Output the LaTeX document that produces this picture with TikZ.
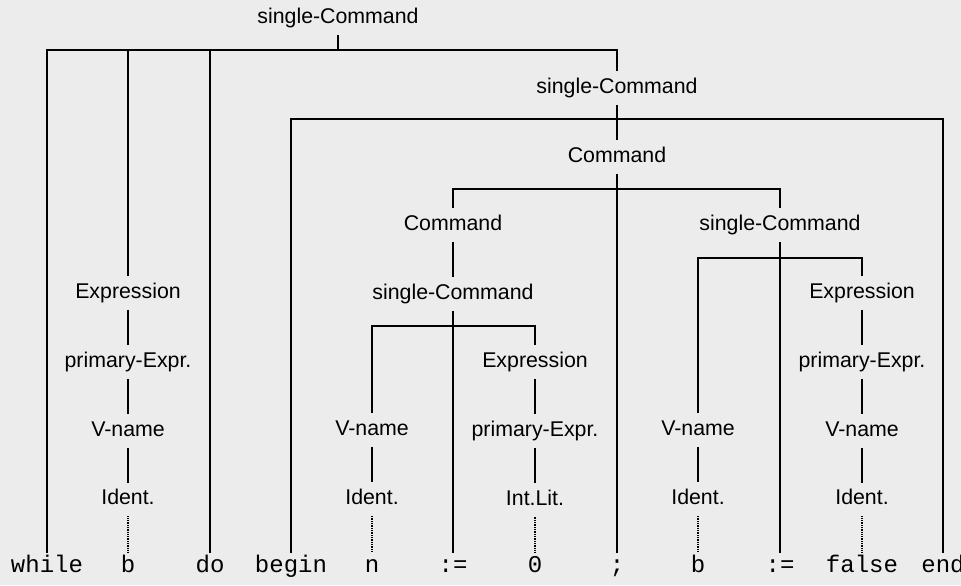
\documentclass[tikz,border=0pt]{standalone}
\usepackage{fontspec}
\setmainfont{Liberation Sans}
\setmonofont{Liberation Mono}
\usetikzlibrary{positioning}
\definecolor{paper}{gray}{0.925}
\tikzset{
    cat/.style={
           font=\fontsize{18.2}{20}\selectfont,
           text height=0.46cm,
           text depth=0.135cm,
           inner xsep=2pt,
           inner ysep=0.21cm,
           outer sep=0pt},
    word/.style={
           font=\ttfamily\fontsize{20.5}{22}\selectfont,
           text height=0.48cm,
           text depth=0.15cm,
           inner xsep=0pt,
           inner ysep=0.12cm,
           outer sep=0pt},
    branch/.style={
           line width=1.5pt},
    leaf/.style={
           line width=0.9pt,
           dash pattern=on 0.7pt off 0.8pt}
}

\begin{document}
\begin{tikzpicture}[x=0.03cm, y=-0.03cm, node distance=1.05cm]
        \fill[paper] (0,0) rectangle (961,585);
        \useasboundingbox (0,0) rectangle (961,585);

        % the sentence
        \node[word] (tWhile) at (47,567) {while};
        \node[word] (tB) at (128,567) {b};
        \node[word] (tDo) at (210,567) {do};
        \node[word] (tBegin) at (291,567) {begin};
        \node[word] (tN) at (372,567) {n};
        \node[word] (tBecomesA) at (453,567) {:=};
        \node[word] (tZero) at (535,567) {0};
        \node[word] (tSemi) at (617,567) {;};
        \node[word] (tBb) at (698,567) {b};
        \node[word] (tBecomesB) at (780,567) {:=};
        \node[word] (tFalse) at (862,567) {false};
        \node[word] (tEnd) at (943,567) {end};

        % phrase nodes
        \node[cat] (sc0) at (338,18) {single-Command};
        \node[cat] (sc1) at (617,88) {single-Command};
        \node[cat, below=of sc1] (cmd0) {Command};
        \node[cat] (cmd1) at (453,225) {Command};
        \node[cat, below=of cmd1] (sc3) {single-Command};
        \node[cat] (sc2) at (780,225) {single-Command};
        \node[cat] (exp0) at (128,293) {Expression};
        \node[cat, below=of exp0] (pe0) {primary-Expr.};
        \node[cat, below=of pe0] (vn0) {V-name};
        \node[cat, below=of vn0] (id0) {Ident.};
        \node[cat] (vn1) at (372,430) {V-name};
        \node[cat, below=of vn1] (id1) {Ident.};
        \node[cat] (exp1) at (535,362) {Expression};
        \node[cat, below=of exp1] (pe1) {primary-Expr.};
        \node[cat, below=of pe1] (il1) {Int.Lit.};
        \node[cat] (vn2) at (698,430) {V-name};
        \node[cat, below=of vn2] (id2) {Ident.};
        \node[cat] (exp2) at (862,293) {Expression};
        \node[cat, below=of exp2] (pe2) {primary-Expr.};
        \node[cat, below=of pe2] (vn3) {V-name};
        \node[cat, below=of vn3] (id3) {Ident.};

        \coordinate (bar0) at (0,50);
        \coordinate (bar1) at (0,119);
        \coordinate (bar2) at (0,189);
        \coordinate (bar3) at (0,258);
        \coordinate (bar4) at (0,326);

        % while b do ...
        \draw[branch] (sc0.south) -- (sc0.south |- bar0);
        \draw[branch] (tWhile.north) -- (tWhile.north |- bar0) -- (sc1.north |- bar0) -- (sc1.north);
        \draw[branch] (exp0.north) -- (exp0.north |- bar0);
        \draw[branch] (tDo.north) -- (tDo.north |- bar0);
        % begin ... end
        \draw[branch] (sc1.south) -- (cmd0.north);
        \draw[branch] (tBegin.north) -- (tBegin.north |- bar1) -- (tEnd.north |- bar1) -- (tEnd.north);
        % C ; C
        \draw[branch] (cmd0.south) -- (tSemi.north);
        \draw[branch] (cmd1.north) -- (cmd1.north |- bar2) -- (sc2.north |- bar2) -- (sc2.north);
        \draw[branch] (cmd1.south) -- (sc3.north);
        % assignments
        \draw[branch] (sc3.south) -- (tBecomesA.north);
        \draw[branch] (vn1.north) -- (vn1.north |- bar4) -- (exp1.north |- bar4) -- (exp1.north);
        \draw[branch] (sc2.south) -- (tBecomesB.north);
        \draw[branch] (vn2.north) -- (vn2.north |- bar3) -- (exp2.north |- bar3) -- (exp2.north);

        \foreach \a/\b in {exp0/pe0, pe0/vn0, vn0/id0, vn1/id1, exp1/pe1, pe1/il1,
                           vn2/id2, exp2/pe2, pe2/vn3, vn3/id3}
            \draw[branch] (\a.south) -- (\b.north);
        \foreach \a/\b in {id0/tB, id1/tN, il1/tZero, id2/tBb, id3/tFalse}
            \draw[leaf] (\a.south) -- (\b.north);
\end{tikzpicture}
\end{document}
